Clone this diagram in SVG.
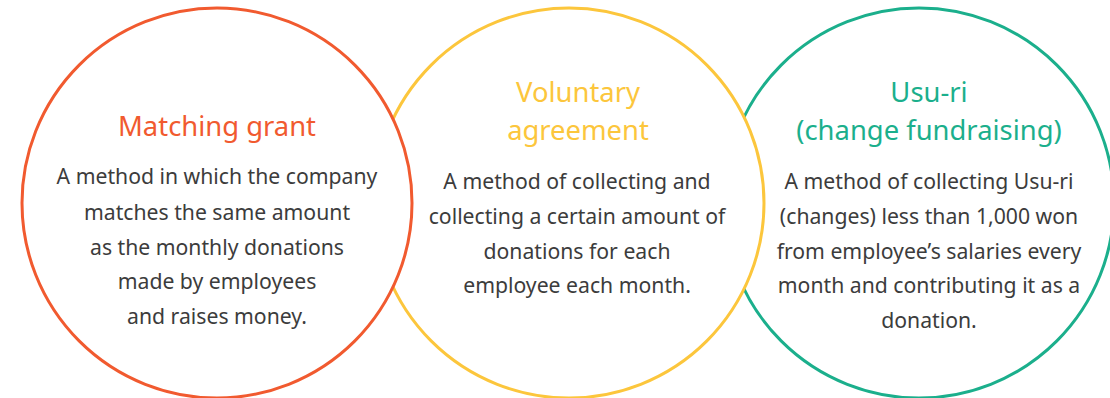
<svg xmlns="http://www.w3.org/2000/svg" width="1110" height="398" viewBox="0 0 1110 398">
<style>
.ring{fill:#ffffff;stroke-width:3}
.title{font-family:"Noto Sans","Open Sans",sans-serif;font-size:27.4px;text-anchor:middle}
.body{font-family:"Noto Sans","Open Sans",sans-serif;font-size:21.2px;fill:#3c3c3c;text-anchor:middle}
</style>
<rect width="1110" height="398" fill="#ffffff"/>
<g id="node-usuri">
<circle class="ring" cx="919" cy="203" r="195" stroke="#1BAF8C"/>
<text class="title" fill="#1BAF8C"><tspan x="929" y="102">Usu-ri</tspan><tspan x="929" y="140">(change fundraising)</tspan></text>
<text class="body"><tspan x="929" y="189">A method of collecting Usu-ri</tspan><tspan x="929" y="224">(changes) less than 1,000 won</tspan><tspan x="929" y="259">from employee’s salaries every</tspan><tspan x="929" y="293">month and contributing it as a</tspan><tspan x="929" y="328">donation.</tspan></text>
</g>
<g id="node-voluntary">
<circle class="ring" cx="569" cy="203" r="195" stroke="#FCC63C"/>
<text class="title" fill="#FCC63C"><tspan x="578" y="102">Voluntary</tspan><tspan x="578" y="140">agreement</tspan></text>
<text class="body"><tspan x="577" y="189">A method of collecting and</tspan><tspan x="577" y="224">collecting a certain amount of</tspan><tspan x="577" y="259">donations for each</tspan><tspan x="577" y="293">employee each month.</tspan></text>
</g>
<g id="node-matching">
<circle class="ring" cx="217" cy="203" r="195" stroke="#F15A2F"/>
<text class="title" fill="#F15A2F" x="217" y="136">Matching grant</text>
<text class="body"><tspan x="217" y="184">A method in which the company</tspan><tspan x="217" y="220">matches the same amount</tspan><tspan x="217" y="255">as the monthly donations</tspan><tspan x="217" y="289">made by employees</tspan><tspan x="217" y="324">and raises money.</tspan></text>
</g>
<g id="connectors"></g>
</svg>
